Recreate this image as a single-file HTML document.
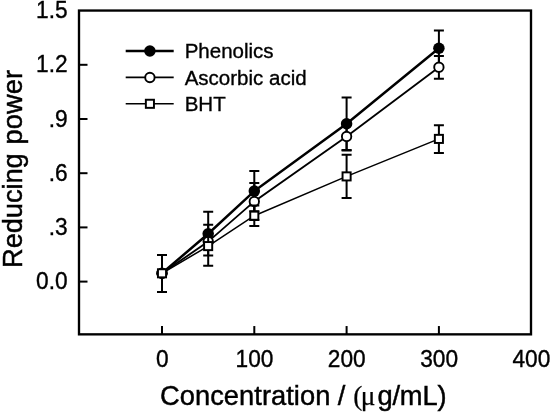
<!DOCTYPE html>
<html><head><meta charset="utf-8"><title>Reducing power</title>
<style>
html,body{margin:0;padding:0;background:#fff}
svg{display:block}
text{font-family:"Liberation Sans",sans-serif;fill:#000}
.tk{font-size:22.7px;stroke:#000;stroke-width:0.35px}
.lg{font-size:20.5px;stroke:#000;stroke-width:0.35px}
.tt{font-size:27.3px;stroke:#000;stroke-width:0.45px}
.sy{font-family:"Liberation Serif",serif;stroke-width:0.25px}
</style></head><body>
<svg width="550" height="413" viewBox="0 0 550 413">
<rect width="550" height="413" fill="#fff"/>
<rect x="79" y="10.55" width="452" height="323.8" fill="none" stroke="#000" stroke-width="2.35"/>
<text transform="translate(67.6 18.1) scale(1 1.05)" text-anchor="end" class="tk">1.5</text>
<path d="M79 64.8H87.5" stroke="#000" stroke-width="2"/>
<text transform="translate(67.6 72.2) scale(1 1.05)" text-anchor="end" class="tk">1.2</text>
<path d="M79 119.0H87.5" stroke="#000" stroke-width="2"/>
<text transform="translate(67.6 126.5) scale(1 1.05)" text-anchor="end" class="tk">.9</text>
<path d="M79 173.2H87.5" stroke="#000" stroke-width="2"/>
<text transform="translate(67.6 180.7) scale(1 1.05)" text-anchor="end" class="tk">.6</text>
<path d="M79 227.4H87.5" stroke="#000" stroke-width="2"/>
<text transform="translate(67.6 234.9) scale(1 1.05)" text-anchor="end" class="tk">.3</text>
<path d="M79 281.6H87.5" stroke="#000" stroke-width="2"/>
<text transform="translate(67.6 289.1) scale(1 1.05)" text-anchor="end" class="tk">0.0</text>
<path d="M162.0 334.35V326.05" stroke="#000" stroke-width="2"/>
<text transform="translate(162.2 367) scale(1 1.05)" text-anchor="middle" class="tk">0</text>
<path d="M254.3 334.35V326.05" stroke="#000" stroke-width="2"/>
<text transform="translate(254.5 367) scale(1 1.05)" text-anchor="middle" class="tk">100</text>
<path d="M346.6 334.35V326.05" stroke="#000" stroke-width="2"/>
<text transform="translate(346.8 367) scale(1 1.05)" text-anchor="middle" class="tk">200</text>
<path d="M438.9 334.35V326.05" stroke="#000" stroke-width="2"/>
<text transform="translate(439.1 367) scale(1 1.05)" text-anchor="middle" class="tk">300</text>
<text transform="translate(531.4 367) scale(1 1.05)" text-anchor="middle" class="tk">400</text>
<polyline points="162.0,273.3 208.2,233.7 254.3,191.1 346.6,123.7 438.9,48.3" fill="none" stroke="#000" stroke-width="2.5"/>
<path d="M162.0 255.0V292.0M157.0 255.0H167.0M157.0 292.0H167.0" stroke="#000" stroke-width="2" fill="none"/>
<path d="M208.2 211.8V255.6M203.2 211.8H213.2M203.2 255.6H213.2" stroke="#000" stroke-width="2" fill="none"/>
<path d="M254.3 171.0V211.2M249.3 171.0H259.3M249.3 211.2H259.3" stroke="#000" stroke-width="2" fill="none"/>
<path d="M346.6 97.4V150.0M341.6 97.4H351.6M341.6 150.0H351.6" stroke="#000" stroke-width="2" fill="none"/>
<path d="M438.9 30.5V65.8M433.9 30.5H443.9M433.9 65.8H443.9" stroke="#000" stroke-width="2" fill="none"/>
<circle cx="162.0" cy="273.3" r="5.75" fill="#000"/>
<circle cx="208.2" cy="233.7" r="5.75" fill="#000"/>
<circle cx="254.3" cy="191.1" r="5.75" fill="#000"/>
<circle cx="346.6" cy="123.7" r="5.75" fill="#000"/>
<circle cx="438.9" cy="48.3" r="5.75" fill="#000"/>
<polyline points="162.0,273.3 208.2,241.6 254.3,201.4 346.6,136.4 438.9,67.2" fill="none" stroke="#000" stroke-width="1.85"/>
<path d="M162.0 255.0V292.0M157.0 255.0H167.0M157.0 292.0H167.0" stroke="#000" stroke-width="2" fill="none"/>
<path d="M208.2 241.6V241.6M203.2 241.6H213.2M203.2 241.6H213.2" stroke="#000" stroke-width="2" fill="none"/>
<path d="M254.3 182.9V219.9M249.3 182.9H259.3M249.3 219.9H259.3" stroke="#000" stroke-width="2" fill="none"/>
<path d="M346.6 123.0V150.6M341.6 123.0H351.6M341.6 150.6H351.6" stroke="#000" stroke-width="2" fill="none"/>
<path d="M438.9 56.0V78.8M433.9 56.0H443.9M433.9 78.8H443.9" stroke="#000" stroke-width="2" fill="none"/>
<circle cx="162.0" cy="273.3" r="4.7" fill="#fff" stroke="#000" stroke-width="1.9"/>
<circle cx="208.2" cy="241.6" r="4.7" fill="#fff" stroke="#000" stroke-width="1.9"/>
<circle cx="254.3" cy="201.4" r="4.7" fill="#fff" stroke="#000" stroke-width="1.9"/>
<circle cx="346.6" cy="136.4" r="4.7" fill="#fff" stroke="#000" stroke-width="1.9"/>
<circle cx="438.9" cy="67.2" r="4.7" fill="#fff" stroke="#000" stroke-width="1.9"/>
<polyline points="162.0,273.3 208.2,246.1 254.3,215.7 346.6,176.4 438.9,138.9" fill="none" stroke="#000" stroke-width="1.55"/>
<path d="M162.0 255.0V292.0M157.0 255.0H167.0M157.0 292.0H167.0" stroke="#000" stroke-width="2" fill="none"/>
<path d="M208.2 224.8V265.8M203.2 224.8H213.2M203.2 265.8H213.2" stroke="#000" stroke-width="2" fill="none"/>
<path d="M254.3 205.6V225.9M249.3 205.6H259.3M249.3 225.9H259.3" stroke="#000" stroke-width="2" fill="none"/>
<path d="M346.6 154.7V198.0M341.6 154.7H351.6M341.6 198.0H351.6" stroke="#000" stroke-width="2" fill="none"/>
<path d="M438.9 125.3V152.9M433.9 125.3H443.9M433.9 152.9H443.9" stroke="#000" stroke-width="2" fill="none"/>
<rect x="157.95" y="269.25" width="8.1" height="8.1" fill="#fff" stroke="#000" stroke-width="1.95"/>
<rect x="204.10" y="242.05" width="8.1" height="8.1" fill="#fff" stroke="#000" stroke-width="1.95"/>
<rect x="250.25" y="211.65" width="8.1" height="8.1" fill="#fff" stroke="#000" stroke-width="1.95"/>
<rect x="342.55" y="172.35" width="8.1" height="8.1" fill="#fff" stroke="#000" stroke-width="1.95"/>
<rect x="434.85" y="134.85" width="8.1" height="8.1" fill="#fff" stroke="#000" stroke-width="1.95"/>
<path d="M125.7 51.0H173.7" stroke="#000" stroke-width="2.6"/>
<circle cx="149.9" cy="51.0" r="5.75" fill="#000"/>
<text transform="translate(184.7 58.2) scale(1 1.0)" class="lg">Phenolics</text>
<path d="M125.7 77.45H173.7" stroke="#000" stroke-width="1.7"/>
<circle cx="149.9" cy="77.5" r="4.7" fill="#fff" stroke="#000" stroke-width="1.9"/>
<text transform="translate(184.7 84.7) scale(1 1.0)" class="lg">Ascorbic acid</text>
<path d="M125.7 103.8H173.7" stroke="#000" stroke-width="1.5"/>
<rect x="145.85" y="99.75" width="8.1" height="8.1" fill="#fff" stroke="#000" stroke-width="1.95"/>
<text transform="translate(184.7 111.0) scale(1 1.0)" class="lg">BHT</text>
<text x="160" y="405.3" class="tt" letter-spacing="0.03">Concentration</text>
<text x="337.8" y="405.3" class="tt">/</text>
<text x="353.3" y="405.3" class="tt sy">(</text>
<text x="360.7" y="405.3" class="tt sy">μ</text>
<text x="377.5" y="405.3" class="tt" letter-spacing="-0.2">g/mL)</text>
<text transform="translate(22 268) rotate(-90)" class="tt" letter-spacing="-0.08">Reducing</text>
<text transform="translate(22 144.55) rotate(-90)" class="tt" letter-spacing="0.06">power</text>
</svg>
</body></html>
